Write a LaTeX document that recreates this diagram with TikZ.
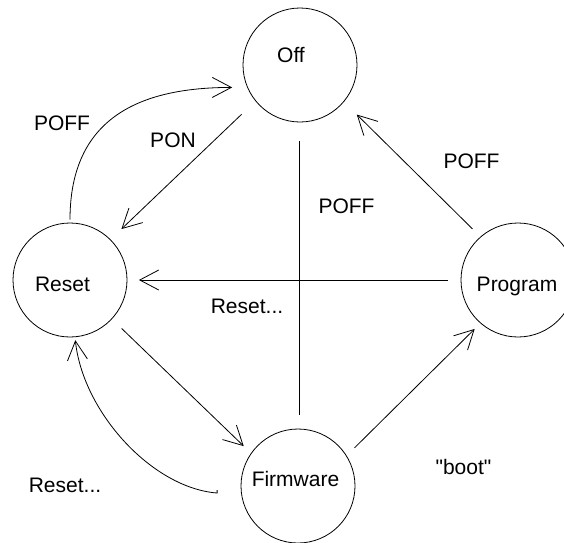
\documentclass[tikz,border=0pt]{standalone}
\usepackage{fontspec}
\setmainfont{Liberation Sans}
\newfontfamily\plainqt{Liberation Sans}
\usetikzlibrary{arrows.meta}

\tikzset{
  stnode/.style={draw, circle, minimum size=114pt, inner sep=0pt},
  lbl/.style={anchor=base, inner sep=0pt, font=\fontsize{21}{25}\selectfont},
  >={Straight Barb[length=19pt,width=20pt]}
}

\begin{document}
\begin{tikzpicture}[x=1pt, y=-1pt, line width=0.8pt]
                \useasboundingbox (0,0) rectangle (564,542);

                \node[stnode] (Off) at (300,65) {};
                \node[stnode] (Rst) at (70,280) {};
                \node[stnode] (Prg) at (518,280) {};
                \node[stnode] (Fw) at (298,486) {};

                \node[lbl] (OffTxt) at (291,62) {Off};
                \node[lbl] (RstTxt) at (62.5,291) {Reset};
                \node[lbl] (PrgTxt) at (517,291.5) {Program};
                \node[lbl] (FwTxt) at (295.5,486.5) {Firmware};

                \node[lbl] (PoffA) at (62,130) {POFF};
                \node[lbl] (Pon) at (173,147) {PON};
                \node[lbl] (PoffB) at (346.5,213) {POFF};
                \node[lbl] (PoffC) at (471.5,168) {POFF};
                \node[lbl] (RstA) at (247,313.5) {Reset...};
                \node[lbl] (Boot) at (463.5,474) {\plainqt "boot"};
                \node[lbl] (RstB) at (65,492) {Reset...};

                \draw[->, shorten <=19pt, shorten >=15pt] (Off.219) -- (Rst.45);
                \draw[->, shorten <=3pt, shorten >=15pt] (Rst.north) .. controls +(0,-105) and +(-107,0) .. (Off.203);
                \draw[shorten <=19pt, shorten >=14pt] ([xshift=-1pt]Off.270) -- ([xshift=1pt]Fw.90);
                \draw[->, shorten <=11pt, shorten >=18pt] (Prg.131) -- (Off.320);
                \draw[->, shorten <=13pt, shorten >=11.5pt] (Prg.180) -- (Rst.0);
                \draw[->, shorten <=13.5pt, shorten >=10pt] (Rst.317) -- (Fw.145);
                \draw[->, shorten <=11pt, shorten >=8pt] (Fw.32) -- (Prg.229);
                \draw[->, shorten >=3pt] ([xshift=-23.7pt,yshift=1pt]Fw.185) -- ++(0,3) .. controls +(-65,-5) and +(8,75) .. (Rst.275);
            \end{tikzpicture}
\end{document}
